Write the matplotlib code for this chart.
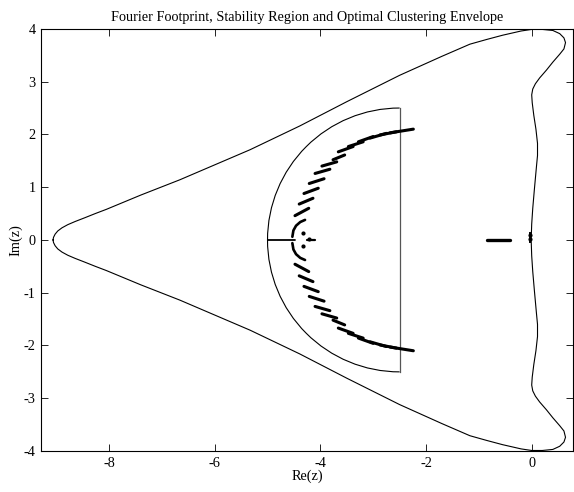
import matplotlib
matplotlib.use("Agg")
import matplotlib.pyplot as plt
from matplotlib.patches import Arc
import numpy as np

plt.rcParams['font.family'] = ['Liberation Serif', 'DejaVu Serif']
plt.rcParams['axes.unicode_minus'] = False

# stability region boundary, upper half (lower half is its mirror)
stab_x = [-9.06, -9.05, -9.02, -8.97, -8.89, -8.78, -8.64, -8.46, -8.26, -8.05,
          -7.40, -6.66, -5.33, -4.39, -3.50, -2.50, -1.70, -1.17, -0.85, -0.55,
          -0.20, 0.00, 0.20, 0.40, 0.53, 0.61, 0.64, 0.61, 0.53, 0.40,
          0.28, 0.15, 0.07, 0.02, 0.00, 0.01, 0.04, 0.08, 0.11, 0.11,
          0.09, 0.05, 0.02, 0.00, -0.01]
stab_y = [0.00, 0.05, 0.11, 0.17, 0.23, 0.29, 0.35, 0.42, 0.50, 0.58,
          0.85, 1.14, 1.71, 2.16, 2.62, 3.12, 3.48, 3.71, 3.80, 3.88,
          3.96, 3.99, 3.99, 3.97, 3.91, 3.83, 3.74, 3.62, 3.52, 3.37,
          3.22, 3.07, 2.96, 2.86, 2.75, 2.60, 2.36, 2.10, 1.83, 1.60,
          1.39, 0.95, 0.60, 0.30, 0.00]

# optimal clustering envelope: half disc
disc_center = -2.5
disc_radius = 2.5

# Fourier footprint: short eigenvalue traces, upper half (mirrored below)
trace_x0 = [-2.68, -2.87, -3.06, -3.28, -3.47, -3.66, -3.76, -3.97, -4.10, -4.21,
            -4.31, -4.40, -4.48]
trace_y0 = [2.03, 1.99, 1.93, 1.86, 1.77, 1.67, 1.52, 1.40, 1.26, 1.07,
            0.88, 0.68, 0.46]
trace_x1 = [-2.24, -2.56, -2.75, -3.00, -3.19, -3.38, -3.54, -3.69, -3.82, -3.93,
            -4.04, -4.14, -4.22]
trace_y1 = [2.10, 2.05, 2.02, 1.96, 1.86, 1.77, 1.61, 1.48, 1.34, 1.16,
            0.98, 0.79, 0.60]

# curved trace next to the real axis
arc_x = [-4.53, -4.51, -4.46, -4.38, -4.29]
arc_y = [0.06, 0.18, 0.27, 0.34, 0.38]

# traces on the real axis
axis_x0 = [-4.99, -4.26, -0.84]
axis_x1 = [-4.48, -4.10, -0.41]
axis_lw = [1.3, 1.6, 2.4]

# isolated points
dot_x = [-4.33, -4.33, -4.22, -0.03, -0.03]
dot_y = [0.13, -0.12, 0.02, 0.02, 0.10]

fig = plt.figure(figsize=(5.74, 4.92), dpi=100)
ax = fig.add_axes([0.0721, 0.0833, 0.926, 0.858])

# stability region
sx = np.array(stab_x)
sy = np.array(stab_y)
ax.plot(np.concatenate([sx, sx[::-1]]), np.concatenate([sy, -sy[::-1]]),
        color='black', lw=0.8)

# half disc
ax.add_patch(Arc((disc_center, 0), 2 * disc_radius, 2 * disc_radius,
                 theta1=90, theta2=270, color='black', lw=0.8))
ax.plot([disc_center, disc_center], [-disc_radius, disc_radius],
        color='#555555', lw=0.9)

# footprint
for sgn in (1, -1):
    for x0, y0, x1, y1 in zip(trace_x0, trace_y0, trace_x1, trace_y1):
        ax.plot([x0, x1], [sgn * y0, sgn * y1], color='black', lw=2.2,
                solid_capstyle='round')
    ax.plot(arc_x, [sgn * v for v in arc_y], color='black', lw=1.9,
            solid_capstyle='round')
for x0, x1, lw in zip(axis_x0, axis_x1, axis_lw):
    ax.plot([x0, x1], [0, 0], color='black', lw=lw, solid_capstyle='round')
ax.plot(dot_x, dot_y, 'o', color='black', ms=2.0)
ax.plot([-0.03, -0.03], [-0.03, 0.14], color='black', lw=1.4)

ax.set_xlim(-9.28, 0.78)
ax.set_ylim(-4, 4)
ax.set_xticks([-8, -6, -4, -2, 0])
ax.set_yticks([-4, -3, -2, -1, 0, 1, 2, 3, 4])
ax.tick_params(direction='in', top=True, right=True, length=5, width=0.6,
               labelsize=10.3, pad=4)
for sp in ax.spines.values():
    sp.set_linewidth(0.8)

ax.set_title('Fourier Footprint, Stability Region and Optimal Clustering Envelope',
             fontsize=10.3, pad=6)
ax.set_xlabel('Re(z)', fontsize=10.3, labelpad=0)
ax.set_ylabel('Im(z)', fontsize=10.3, labelpad=1)

fig.savefig('out.png', dpi=100)
